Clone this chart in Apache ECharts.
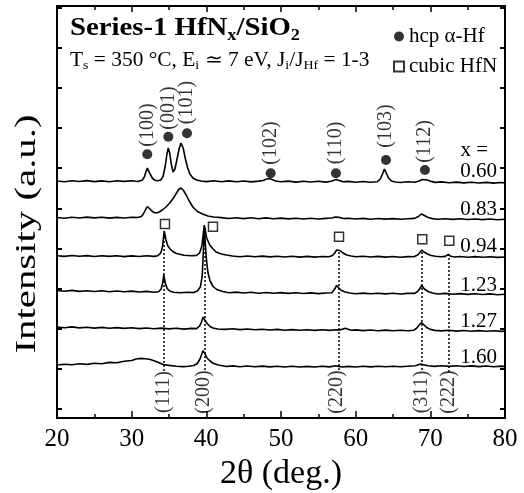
<!DOCTYPE html>
<html>
<head>
<meta charset="utf-8">
<script src="https://cdn.jsdelivr.net/npm/echarts@6/dist/echarts.min.js"></script>
<style>html,body{margin:0;padding:0;background:#fff}#main{width:524px;height:493px}</style>
</head>
<body>
<div id="main"></div>
<script>
var FONT = 'Liberation Serif';

// x in HfNx, one trace each (2theta, intensity a.u., stacked)
var sampleNames = ['0.60', '0.83', '0.94', '1.23', '1.27', '1.60'];
var sampleLabelY = [171.5, 209, 246.5, 285, 321, 357];

var s060 = [[20,237],[21,236.2],[22,237.3],[23,236.5],[24,237.4],[25,236.4],[26,237.1],[27,236.3],[28,237.2],[29,236.6],[30,237.3],[30.8,236.5],[31.4,237.8],[31.7,241],[31.9,246],[32.1,250],[32.3,248],[32.5,243.5],[32.8,239.5],[33.1,237.8],[33.5,237.2],[33.9,238],[34.2,241.5],[34.5,252],[34.7,263],[34.9,270],[35.1,265],[35.3,254],[35.55,246],[35.8,249],[36.05,258],[36.35,269],[36.6,275],[36.9,270],[37.2,259],[37.5,250],[37.8,244],[38.2,240],[38.7,238],[39.3,237],[40,236.4],[41,237.3],[42,236.2],[43,237.1],[44,236.3],[45,237],[46,236.1],[47,236.9],[47.6,237.5],[48,238.8],[48.4,239.5],[48.8,238.6],[49.3,237],[50,236.2],[51,236.9],[52,235.9],[53,236.8],[54,236],[55,236.7],[56,235.9],[56.7,236.8],[57.1,237.8],[57.4,238.6],[57.8,237.6],[58.3,236.2],[59,236.6],[60,235.8],[61,236.5],[62,235.7],[62.9,236.3],[63.3,239],[63.6,244],[63.85,249],[64.1,245],[64.4,240],[64.8,237],[65.3,236],[66,235.5],[67,236.2],[67.9,235.8],[68.5,237],[68.9,238.5],[69.15,239],[69.6,238],[70.1,236.6],[70.7,235.6],[71.5,236.1],[72.5,235.3],[73.5,235.9],[74.5,235.1],[75.5,235.8],[76.5,235],[77.5,235.6],[78.5,234.9],[79.3,235.5],[80,235.2]];
var s083 = [[20,200.5],[21,199.8],[22,200.8],[23,200],[24,200.9],[25,200.1],[26,200.7],[27,199.9],[28,200.6],[29,200],[30,200.8],[30.8,200.5],[31.3,201.5],[31.6,204.5],[31.9,209],[32.1,211.3],[32.4,209.5],[32.7,207],[33,205.5],[33.3,205],[33.7,206],[34.1,208],[34.6,211],[35.1,215],[35.6,220],[36,225],[36.3,228.5],[36.6,230],[36.9,228],[37.3,223],[37.7,217],[38.2,211],[38.8,206.5],[39.5,204],[40.2,202],[41,201],[42,200.4],[43,199.5],[44,200.3],[45,199.4],[46,200.2],[47,199.3],[48,200.1],[49,199.3],[50,199.9],[51,199.1],[52,199.8],[53,199],[54,199.7],[55,199],[56,199.6],[56.8,200],[57.3,201],[57.8,200.6],[58.4,199.4],[59,199.8],[60,199],[61,199.6],[62,198.8],[63,199.5],[64,198.9],[65,199.4],[66,198.8],[67,199.3],[67.9,199.6],[68.4,201.5],[68.8,204],[69.2,202.5],[69.7,200.5],[70.3,199.4],[71,198.8],[72,199.3],[73,198.6],[74,199.2],[75,198.5],[76,199],[77,198.4],[78,199],[79,198.3],[80,198.7]];
var s094 = [[20,162.3],[21,161.6],[22,162.5],[23,161.7],[24,162.4],[25,161.5],[26,162.3],[27,161.6],[28,162.2],[29,161.4],[30,162.1],[31,161.5],[32,162.2],[33,161.6],[33.5,162.3],[33.9,165],[34.15,172],[34.35,187],[34.6,178],[34.85,172],[35.1,169.5],[35.5,166.5],[36,164.5],[37,162.8],[38,162.2],[38.7,162.6],[39.1,165],[39.4,172],[39.6,185],[39.72,193],[39.85,188],[40.05,180],[40.45,173],[40.9,169],[41.3,166],[42,164],[42.7,163],[43.5,162],[44.5,161.3],[45.5,162],[46.5,161.2],[47.5,161.9],[48.5,161.1],[49.5,161.8],[50.5,161],[51.5,161.7],[52.5,160.9],[53.5,161.6],[54.5,160.9],[55.5,161.5],[56.4,161.2],[56.9,162.5],[57.2,165],[57.45,168],[57.6,169.5],[57.9,167.5],[58.3,165],[58.8,163],[59.4,162],[60,161.2],[61,161.8],[62,161],[63,161.6],[64,160.9],[65,161.5],[66,160.8],[67,161.4],[67.8,161.2],[68.3,163],[68.6,165.5],[68.85,168],[69.15,166],[69.6,164],[70.1,162.5],[70.7,161.8],[71.4,161.2],[72,161.6],[72.4,163.5],[72.7,161.8],[73.3,161],[74,161.5],[75,160.8],[76,161.4],[77,160.7],[78,161.3],[79,160.6],[80,161]];
var s123 = [[20,127.5],[21,126.8],[22,127.6],[23,126.6],[24,127.3],[25,126.5],[26,127.2],[27,126.3],[28,127],[29,126.2],[30,126.9],[31,126],[32,126.6],[33,125.8],[33.6,126.3],[33.95,129],[34.15,135],[34.3,143],[34.5,135],[34.75,129.5],[35.1,127],[35.6,125.8],[36.5,125.2],[37.5,125.8],[38.3,125.4],[38.8,127],[39.2,131],[39.45,142],[39.62,170],[39.72,190],[39.85,176],[40,160],[40.2,146],[40.5,137],[40.9,131.5],[41.4,128.5],[42.2,126.5],[43,125.3],[44,125.9],[45,125],[46,125.7],[47,124.8],[48,125.5],[49,124.7],[50,125.4],[51,124.6],[52,125.2],[53,124.5],[54,125.1],[55,124.4],[56,125],[56.8,125.3],[57.15,128.5],[57.45,132.5],[57.75,130],[58.1,127.5],[58.6,126],[59.2,125],[60,124.3],[61,124.9],[62,124.2],[63,124.8],[64,124.1],[65,124.7],[66,124],[67,124.6],[67.9,124.6],[68.3,126.5],[68.6,129.5],[68.85,132.5],[69.2,129],[69.7,126.5],[70.3,125],[71,124],[72,124.6],[73,123.8],[74,124.4],[75,123.6],[76,124.2],[77,123.5],[78,124.1],[79,123.3],[80,123.8]];
var s127 = [[20,91],[21,90.3],[22,91.1],[23,90.1],[24,90.8],[25,89.9],[26,90.6],[27,89.7],[28,90.4],[29,89.6],[30,90.2],[31,89.4],[32,90],[33,89.2],[34,89.9],[35,89.1],[36,89.7],[37,88.9],[38,89.6],[38.7,89.4],[39.1,92],[39.35,96],[39.55,100.7],[39.8,98],[40.1,94.5],[40.5,91.5],[40.9,90],[41.5,89],[42.5,88.6],[43.5,89.2],[44.5,88.4],[45.5,89],[46.5,88.2],[47.5,88.8],[48.5,88],[49.5,88.6],[50.5,87.8],[51.5,88.4],[52.5,87.7],[53.5,88.3],[54.5,87.6],[55.5,88.2],[56.5,87.6],[57.3,88.3],[57.9,88],[58.3,89],[58.6,89.7],[58.9,88.9],[59.4,87.8],[60,88.1],[61,87.4],[62,88],[63,87.3],[64,87.9],[65,87.2],[66,87.8],[67,87.2],[67.8,87.8],[68.2,90],[68.5,93],[68.8,95.3],[69.1,93.5],[69.5,90.5],[70,88.6],[70.6,87.6],[71.5,87.1],[72.5,87.7],[73.5,86.9],[74.5,87.5],[75.5,86.8],[76.5,87.4],[77.5,86.7],[78.5,87.3],[79.5,86.6],[80,87]];
var s160 = [[20,53],[21,53.8],[22,53.2],[23,54.2],[24,53.6],[25,54.8],[26,54.2],[27,55.6],[28,55.2],[29,56.8],[30,57.5],[30.6,59],[31.2,59.6],[31.8,59.2],[32.4,58.8],[33,57.2],[33.6,55.5],[34.2,53.5],[35,52.6],[36,51.8],[36.9,51.4],[37.6,51.8],[38.3,52.5],[38.8,54.5],[39.15,59],[39.4,64],[39.55,67.3],[39.8,64.5],[40.1,60],[40.5,57],[40.9,54.7],[41.6,53],[42.7,51.5],[43.5,52.1],[44.5,51.3],[45.5,52],[46.5,51.2],[47.5,51.9],[48.5,51.1],[49.5,51.8],[50.5,51],[51.5,51.7],[52.5,51],[53.5,51.6],[54.5,51],[55.5,51.7],[56.5,51.1],[57.3,52.2],[57.7,51.6],[58.3,51],[59,51.6],[60,51],[61,51.7],[62,51.1],[63,51.8],[64,51.2],[65,51.8],[66,51.2],[67,51.8],[68,52.2],[68.7,54],[69.1,53.3],[69.7,52.2],[70.5,51.6],[71.5,52.3],[72.5,51.6],[73.5,52.2],[74.5,51.5],[75.5,52.1],[76.5,51.4],[77.5,52],[78.5,51.3],[79.5,51.9],[80,51.5]];
var traces = [s060, s083, s094, s123, s127, s160];

// hcp alpha-Hf reflections (dot marker + rotated label)
var hcpLabels = ['(100)', '(001)', '(101)', '(102)', '(110)', '(103)', '(112)'];
var hcpDots = [[32.09,263.7],[34.91,281.3],[37.41,284.7],[48.62,244.7],[57.36,244.7],[64.06,258],[69.28,248]];
var hcpLabelPos = [[32.09,293],[34.91,310],[37.41,315.5],[48.62,275],[57.36,275],[64.06,292],[69.28,276.5]];

// cubic HfN reflections (square marker, dotted guide, label at bottom)
var fccLabels = ['(111)', '(200)', '(220)', '(311)', '(222)'];
var fccSquares = [[34.46,194],[40.89,191.3],[57.77,181.3],[68.92,178.7],[72.54,177.3]];
var fccLabelPos = [[34.26,26],[39.62,26],[57.46,26],[68.84,26],[72.4,26]];
var fccGuides = [[34.33,181],[39.73,190],[57.67,166],[68.84,166],[72.4,164]];
var guideBottom = 46;

var yTicks = [9, 49, 89, 129, 169, 209, 250, 290, 330, 370, 410];

var chart = echarts.init(document.getElementById('main'));

var axisLine = { show: true, onZero: false, lineStyle: { color: '#000', width: 2 } };
var tickStyle = { color: '#000', width: 1.5 };

var series = traces.map(function (d, i) {
    return {
        name: 'x=' + sampleNames[i],
        type: 'line',
        data: d,
        symbol: 'none',
        lineStyle: { color: '#000', width: 1.6 },
        itemStyle: { color: '#000' },
        silent: true,
        z: 2
    };
});

series.push({
    name: 'hcp α-Hf',
    type: 'scatter',
    data: hcpDots,
    symbol: 'circle',
    symbolSize: 10,
    itemStyle: { color: '#000' },
    z: 4
});
series.push({
    name: 'cubic HfN',
    type: 'scatter',
    data: fccSquares,
    symbol: 'rect',
    symbolSize: 9,
    itemStyle: { color: '#fff', borderColor: '#000', borderWidth: 1.5 },
    z: 4,
    markLine: {
        silent: true,
        symbol: ['none', 'none'],
        label: { show: false },
        lineStyle: { color: '#000', type: [2, 2], width: 1.5 },
        data: fccGuides.map(function (g) {
            return [{ coord: [g[0], g[1]] }, { coord: [g[0], guideBottom] }];
        })
    }
});
// rotated reflection labels
function labelSeries(names, pos) {
    return {
        type: 'scatter',
        data: names.map(function (t, i) { return { name: t, value: pos[i] }; }),
        symbolSize: 1,
        itemStyle: { color: 'rgba(0,0,0,0)' },
        silent: true,
        z: 5,
        label: {
            show: true, position: 'inside', rotate: 90, formatter: '{b}',
            fontSize: 20, color: '#000', fontFamily: FONT
        }
    };
}
series.push(labelSeries(hcpLabels, hcpLabelPos));
series.push(labelSeries(fccLabels, fccLabelPos));

var graphics = [
    {
        type: 'text', x: 70, y: 29, scaleX: 1.15,
        style: {
            text: '{b|Series-1 HfN}{bs|x}{b|/SiO}{bs|2}',
            verticalAlign: 'middle', align: 'left', fill: '#000',
            rich: {
                b: { fontSize: 25, fontWeight: 'bold', fontFamily: FONT, fill: '#000' },
                bs: { fontSize: 16, fontWeight: 'bold', fontFamily: FONT, fill: '#000', padding: [14, 0, 0, 0] }
            }
        }
    },
    {
        type: 'text', x: 70, y: 61, scaleX: 1.07,
        style: {
            text: '{n|T}{s|s}{n| = 350 °C, E}{s|i}{n| ≃ 7 eV, J}{s|i}{n|/J}{s|Hf}{n| = 1-3}',
            verticalAlign: 'middle', align: 'left', fill: '#000',
            rich: {
                n: { fontSize: 20, fontFamily: FONT, fill: '#000' },
                s: { fontSize: 13, fontFamily: FONT, fill: '#000', padding: [10, 0, 0, 0] }
            }
        }
    },
    {
        type: 'text', x: 27, y: 234, rotation: Math.PI / 2, scaleX: 1.36,
        style: {
            text: 'Intensity (a.u.)', fontSize: 30, fontFamily: FONT,
            align: 'center', verticalAlign: 'middle', fill: '#000'
        }
    },
    {
        type: 'text', x: 488, y: 150,
        style: { text: 'x =', fontSize: 21, fontFamily: FONT, align: 'right', verticalAlign: 'middle', fill: '#000' }
    }
];
sampleNames.forEach(function (n, i) {
    graphics.push({
        type: 'text', x: 497, y: sampleLabelY[i],
        style: { text: n, fontSize: 21, fontFamily: FONT, align: 'right', verticalAlign: 'middle', fill: '#000' }
    });
});

option = {
    animation: false,
    backgroundColor: '#fff',
    textStyle: { fontFamily: FONT },
    grid: { left: 57, right: 19, top: 6, bottom: 75, containLabel: false, outerBoundsMode: 'none' },
    legend: {
        data: ['hcp α-Hf', 'cubic HfN'],
        orient: 'vertical',
        left: 388,
        top: 21,
        itemWidth: 10,
        itemHeight: 10,
        itemGap: 9,
        selectedMode: false,
        textStyle: { fontSize: 21, color: '#000', fontFamily: FONT }
    },
    xAxis: [
        {
            type: 'value', min: 20, max: 80, interval: 10, position: 'bottom',
            axisLine: axisLine,
            axisTick: { inside: true, length: 7, lineStyle: tickStyle },
            minorTick: { show: true, splitNumber: 2, length: 4, lineStyle: tickStyle },
            splitLine: { show: false },
            axisLabel: { fontSize: 25, color: '#000', fontFamily: FONT, margin: 9 },
            name: '2θ (deg.)', nameLocation: 'middle', nameGap: 33,
            nameTextStyle: { fontSize: 34, color: '#000', fontFamily: FONT }
        },
        {
            type: 'value', min: 20, max: 80, interval: 10, position: 'top',
            axisLine: axisLine,
            axisTick: { inside: true, length: 6, lineStyle: tickStyle },
            minorTick: { show: true, splitNumber: 2, length: 4, lineStyle: tickStyle },
            splitLine: { show: false },
            axisLabel: { show: false }
        }
    ],
    yAxis: [
        {
            type: 'value', min: 0, max: 412, position: 'left',
            axisLine: axisLine,
            axisTick: { inside: true, length: 5, customValues: yTicks, lineStyle: { color: '#000', width: 2 } },
            axisLabel: { show: false },
            splitLine: { show: false }
        },
        {
            type: 'value', min: 0, max: 412, position: 'right',
            axisLine: axisLine,
            axisTick: { inside: true, length: 5, customValues: yTicks, lineStyle: { color: '#000', width: 2 } },
            axisLabel: { show: false },
            splitLine: { show: false }
        }
    ],
    series: series,
    graphic: graphics
};

chart.setOption(option);
</script>
</body>
</html>
